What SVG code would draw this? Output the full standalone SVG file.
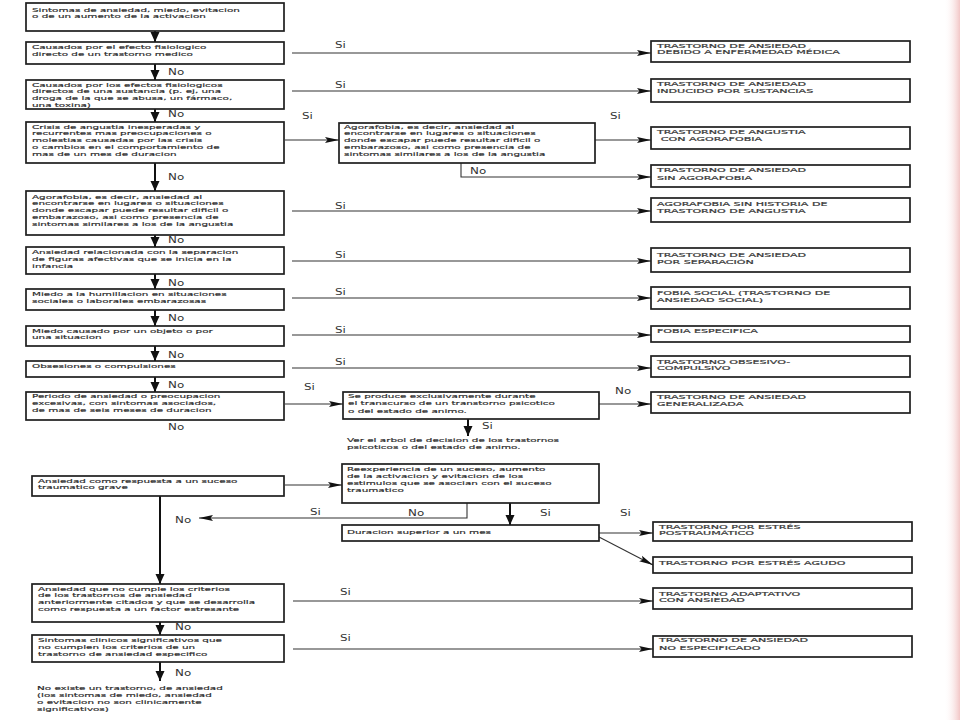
<svg xmlns="http://www.w3.org/2000/svg" width="960" height="720" viewBox="0 0 960 720">
<style>
.b{fill:#fff;stroke:#1e1e1e;stroke-width:1.7}
.t{font-family:"DejaVu Sans","Liberation Sans",sans-serif;font-size:5.9px;fill:#2b2b2b;stroke:#2b2b2b;stroke-width:0.16}
.u{font-family:"DejaVu Sans","Liberation Sans",sans-serif;font-size:5.9px;fill:#3a3a3a;stroke:#3a3a3a;stroke-width:0.2}
.l{font-family:"DejaVu Sans","Liberation Sans",sans-serif;font-size:9.5px;fill:#333}
.h{stroke:#333;stroke-width:1.1;fill:none}
.v{stroke:#111;stroke-width:2;fill:none}
</style>
<defs>
<marker id="ah" markerUnits="userSpaceOnUse" markerWidth="15" markerHeight="8" refX="14" refY="4" orient="auto"><path d="M0,0.9 L14,4 L0,7.1 L2.5,4 z" fill="#111"/></marker>
<marker id="ad" markerUnits="userSpaceOnUse" markerWidth="11" markerHeight="10" refX="10" refY="4.5" orient="auto"><path d="M0,0 L10,4.5 L0,9 z" fill="#111"/></marker>
<linearGradient id="pk" x1="0" y1="0" x2="1" y2="0"><stop offset="0" stop-color="#fff" stop-opacity="0"/><stop offset="1" stop-color="#f2c6c6"/></linearGradient>
</defs>
<rect width="960" height="720" fill="#fff"/>
<rect x="944" y="0" width="16" height="720" fill="url(#pk)"/>

<g id="connectors">
<line class="v" x1="155" y1="31" x2="155" y2="42" marker-end="url(#ad)"/>
<line class="v" x1="155" y1="64" x2="155" y2="80" marker-end="url(#ad)"/>
<line class="v" x1="155" y1="109" x2="155" y2="122" marker-end="url(#ad)"/>
<line class="v" x1="155" y1="163" x2="155" y2="191" marker-end="url(#ad)"/>
<line class="v" x1="155" y1="235" x2="155" y2="247" marker-end="url(#ad)"/>
<line class="v" x1="155" y1="274" x2="155" y2="289" marker-end="url(#ad)"/>
<line class="v" x1="155" y1="310" x2="155" y2="326" marker-end="url(#ad)"/>
<line class="v" x1="155" y1="346" x2="155" y2="361" marker-end="url(#ad)"/>
<line class="v" x1="155" y1="377" x2="155" y2="392" marker-end="url(#ad)"/>
<line class="h" x1="292" y1="53" x2="651" y2="53" marker-end="url(#ah)"/>
<line class="h" x1="292" y1="91" x2="651" y2="91" marker-end="url(#ah)"/>
<line class="h" x1="285" y1="140" x2="339" y2="140" marker-end="url(#ah)"/>
<line class="h" x1="595" y1="140" x2="651" y2="140" marker-end="url(#ah)"/>
<polyline class="h" points="461,163 461,177 651,177" marker-end="url(#ah)"/>
<line class="h" x1="292" y1="211" x2="651" y2="211" marker-end="url(#ah)"/>
<line class="h" x1="292" y1="261" x2="651" y2="261" marker-end="url(#ah)"/>
<line class="h" x1="292" y1="298" x2="651" y2="298" marker-end="url(#ah)"/>
<line class="h" x1="292" y1="335" x2="651" y2="335" marker-end="url(#ah)"/>
<line class="h" x1="292" y1="368" x2="651" y2="368" marker-end="url(#ah)"/>
<line class="h" x1="285" y1="404" x2="343" y2="404" marker-end="url(#ah)"/>
<line class="h" x1="599" y1="404" x2="651" y2="404" marker-end="url(#ah)"/>
<line class="v" x1="468" y1="419" x2="468" y2="436" marker-end="url(#ad)"/>
<line class="h" x1="285" y1="485" x2="342" y2="485" marker-end="url(#ah)"/>
<polyline class="h" points="467,503 467,518 199,518" marker-end="url(#ah)"/>
<line class="v" x1="510" y1="503" x2="510" y2="525" marker-end="url(#ad)"/>
<line class="h" x1="599" y1="533" x2="653" y2="533" marker-end="url(#ah)"/>
<line class="h" x1="599" y1="537" x2="653" y2="565" marker-end="url(#ah)"/>
<line class="v" x1="160" y1="496" x2="160" y2="584" marker-end="url(#ad)"/>
<line class="v" x1="160" y1="622" x2="160" y2="635" marker-end="url(#ad)"/>
<line class="v" x1="160" y1="662" x2="160" y2="681" marker-end="url(#ad)"/>
<line class="h" x1="293" y1="601" x2="653" y2="601" marker-end="url(#ah)"/>
<line class="h" x1="293" y1="649" x2="653" y2="649" marker-end="url(#ah)"/>
</g>

<g id="labels">
<text class="l" transform="translate(335,47.5) scale(1.25,1)">Si</text>
<text class="l" transform="translate(335,87.5) scale(1.25,1)">Si</text>
<text class="l" transform="translate(168,75) scale(1.25,1)">No</text>
<text class="l" transform="translate(168,117) scale(1.25,1)">No</text>
<text class="l" transform="translate(302,118.5) scale(1.25,1)">Si</text>
<text class="l" transform="translate(610,118.5) scale(1.25,1)">Si</text>
<text class="l" transform="translate(470,173.5) scale(1.25,1)">No</text>
<text class="l" transform="translate(168,180) scale(1.25,1)">No</text>
<text class="l" transform="translate(335,208.5) scale(1.25,1)">Si</text>
<text class="l" transform="translate(168,243) scale(1.25,1)">No</text>
<text class="l" transform="translate(335,258) scale(1.25,1)">Si</text>
<text class="l" transform="translate(168,285.5) scale(1.25,1)">No</text>
<text class="l" transform="translate(335,294.5) scale(1.25,1)">Si</text>
<text class="l" transform="translate(168,321) scale(1.25,1)">No</text>
<text class="l" transform="translate(335,333) scale(1.25,1)">Si</text>
<text class="l" transform="translate(168,358) scale(1.25,1)">No</text>
<text class="l" transform="translate(335,365) scale(1.25,1)">Si</text>
<text class="l" transform="translate(168,388) scale(1.25,1)">No</text>
<text class="l" transform="translate(304,390) scale(1.25,1)">Si</text>
<text class="l" transform="translate(615,394) scale(1.25,1)">No</text>
<text class="l" transform="translate(168,430) scale(1.25,1)">No</text>
<text class="l" transform="translate(482,428.5) scale(1.25,1)">Si</text>
<text class="l" transform="translate(310,515) scale(1.25,1)">Si</text>
<text class="l" transform="translate(408,516) scale(1.25,1)">No</text>
<text class="l" transform="translate(540,515.5) scale(1.25,1)">Si</text>
<text class="l" transform="translate(620,515.5) scale(1.25,1)">Si</text>
<text class="l" transform="translate(175,523) scale(1.25,1)">No</text>
<text class="l" transform="translate(340,595) scale(1.25,1)">Si</text>
<text class="l" transform="translate(175,630) scale(1.25,1)">No</text>
<text class="l" transform="translate(340,641) scale(1.25,1)">Si</text>
<text class="l" transform="translate(175,676) scale(1.25,1)">No</text>
</g>

<g id="n1"><rect class="b" x="26" y="3" width="258" height="28"/>
<text class="t" transform="translate(32,11.5) scale(1.76,1)"><tspan x="0" y="0">Sintomas de ansiedad, miedo, evitacion</tspan><tspan x="0" y="7">o de un aumento de la activacion</tspan></text></g>
<g id="n2"><rect class="b" x="26" y="42" width="258" height="22"/>
<text class="t" transform="translate(32,49) scale(1.76,1)"><tspan x="0" y="0">Causados por el efecto fisiologico</tspan><tspan x="0" y="7">directo de un trastorno medico</tspan></text></g>
<g id="n3"><rect class="b" x="26" y="80" width="258" height="29"/>
<text class="t" transform="translate(32,86.5) scale(1.76,1)"><tspan x="0" y="0">Causados por los efectos fisiologicos</tspan><tspan x="0" y="6.9">directos de una sustancia (p. ej, una</tspan><tspan x="0" y="13.8">droga de la que se abusa, un fármaco,</tspan><tspan x="0" y="20.7">una toxina)</tspan></text></g>
<g id="n4"><rect class="b" x="26" y="122" width="258" height="41"/>
<text class="t" transform="translate(32,128.5) scale(1.76,1)"><tspan x="0" y="0">Crisis de angustia inesperadas y</tspan><tspan x="0" y="6.9">recurrentes mas preocupaciones o</tspan><tspan x="0" y="13.8">molestias causadas por las crisis</tspan><tspan x="0" y="20.7">o cambios en el comportamiento de</tspan><tspan x="0" y="27.6">mas de un mes de duracion</tspan></text></g>
<g id="n5"><rect class="b" x="26" y="191" width="258" height="44"/>
<text class="t" transform="translate(32,198.5) scale(1.76,1)"><tspan x="0" y="0">Agorafobia, es decir, ansiedad al</tspan><tspan x="0" y="6.9">encontrarse en lugares o situaciones</tspan><tspan x="0" y="13.8">donde escapar puede resultar dificil o</tspan><tspan x="0" y="20.7">embarazoso, asi como presencia de</tspan><tspan x="0" y="27.6">sintomas similares a los de la angustia</tspan></text></g>
<g id="n6"><rect class="b" x="26" y="247" width="258" height="27"/>
<text class="t" transform="translate(32,254) scale(1.76,1)"><tspan x="0" y="0">Ansiedad relacionada con la separacion</tspan><tspan x="0" y="6.9">de figuras afectivas que se inicia en la</tspan><tspan x="0" y="13.8">infancia</tspan></text></g>
<g id="n7"><rect class="b" x="26" y="289" width="258" height="21"/>
<text class="t" transform="translate(32,296) scale(1.76,1)"><tspan x="0" y="0">Miedo a la humillacion en situaciones</tspan><tspan x="0" y="7">sociales o laborales embarazosas</tspan></text></g>
<g id="n8"><rect class="b" x="26" y="326" width="258" height="20"/>
<text class="t" transform="translate(32,332.5) scale(1.76,1)"><tspan x="0" y="0">Miedo causado por un objeto o por</tspan><tspan x="0" y="7">una situacion</tspan></text></g>
<g id="n9"><rect class="b" x="26" y="361" width="258" height="16"/>
<text class="t" transform="translate(32,367.5) scale(1.76,1)">Obsesiones o compulsiones</text></g>
<g id="n10"><rect class="b" x="26" y="392" width="258" height="28"/>
<text class="t" transform="translate(32,398) scale(1.76,1)"><tspan x="0" y="0">Periodo de ansiedad o preocupacion</tspan><tspan x="0" y="7">excesivas, con sintomas asociados,</tspan><tspan x="0" y="14">de mas de seis meses de duracion</tspan></text></g>

<g id="m1"><rect class="b" x="339" y="123" width="256" height="40"/>
<text class="t" transform="translate(344,128.5) scale(1.76,1)"><tspan x="0" y="0">Agorafobia, es decir, ansiedad al</tspan><tspan x="0" y="6.9">encontrarse en lugares o situaciones</tspan><tspan x="0" y="13.8">donde escapar puede resultar dificil o</tspan><tspan x="0" y="20.7">embarazoso, asi como presencia de</tspan><tspan x="0" y="27.6">sintomas similares a los de la angustia</tspan></text></g>
<g id="m2"><rect class="b" x="343" y="392" width="256" height="27"/>
<text class="t" transform="translate(348,398) scale(1.76,1)"><tspan x="0" y="0">Se produce exclusivamente durante</tspan><tspan x="0" y="7.3">el transcurso de un transtorno psicotico</tspan><tspan x="0" y="14.6">o del estado de animo.</tspan></text></g>
<g id="m3">
<text class="t" transform="translate(347,442) scale(1.76,1)"><tspan x="0" y="0">Ver el arbol de decision de los trastornos</tspan><tspan x="0" y="7.2">psicoticos o del estado de animo.</tspan></text></g>
<g id="m4"><rect class="b" x="342" y="464" width="257" height="39"/>
<text class="t" transform="translate(347,471) scale(1.76,1)"><tspan x="0" y="0">Reexperiencia de un suceso, aumento</tspan><tspan x="0" y="6.9">de la activacion y evitacion de los</tspan><tspan x="0" y="13.8">estimulos que se asocian con el suceso</tspan><tspan x="0" y="20.7">traumatico</tspan></text></g>
<g id="m5"><rect class="b" x="342" y="525" width="257" height="16"/>
<text class="t" transform="translate(347,533.5) scale(1.76,1)">Duracion superior a un mes</text></g>

<g id="n11"><rect class="b" x="32" y="476" width="252" height="20"/>
<text class="t" transform="translate(38,482.5) scale(1.76,1)"><tspan x="0" y="0">Ansiedad como respuesta a un suceso</tspan><tspan x="0" y="6.9">traumatico grave</tspan></text></g>
<g id="n12"><rect class="b" x="32" y="584" width="252" height="38"/>
<text class="t" transform="translate(38,590.5) scale(1.76,1)"><tspan x="0" y="0">Ansiedad que no cumple los criterios</tspan><tspan x="0" y="6.9">de los trastornos de ansiedad</tspan><tspan x="0" y="13.8">anteriormente citados y que se desarrolla</tspan><tspan x="0" y="20.7">como respuesta a un factor estresante</tspan></text></g>
<g id="n13"><rect class="b" x="32" y="635" width="252" height="27"/>
<text class="t" transform="translate(38,642) scale(1.76,1)"><tspan x="0" y="0">Sintomas clinicos significativos que</tspan><tspan x="0" y="6.9">no cumplen los criterios de un</tspan><tspan x="0" y="13.8">trastorno de ansiedad especifico</tspan></text></g>
<g id="n14">
<text class="t" transform="translate(37,690) scale(1.76,1)"><tspan x="0" y="0">No existe un trastorno, de ansiedad</tspan><tspan x="0" y="7">(los sintomas de miedo, ansiedad</tspan><tspan x="0" y="14">o evitacion no son clinicamente</tspan><tspan x="0" y="21">significativos)</tspan></text></g>

<g id="r1"><rect class="b" x="651" y="41" width="259" height="21"/>
<text class="u" transform="translate(657,47.5) scale(1.88,1)"><tspan x="0" y="0">TRASTORNO DE ANSIEDAD</tspan><tspan x="0" y="7">DEBIDO A ENFERMEDAD MÉDICA</tspan></text></g>
<g id="r2"><rect class="b" x="651" y="79" width="259" height="23"/>
<text class="u" transform="translate(657,85.7) scale(1.88,1)"><tspan x="0" y="0">TRASTORNO DE ANSIEDAD</tspan><tspan x="0" y="7.2">INDUCIDO POR SUSTANCIAS</tspan></text></g>
<g id="r3"><rect class="b" x="651" y="127" width="259" height="22"/>
<text class="u" transform="translate(657,133.7) scale(1.88,1)"><tspan x="0" y="0">TRASTORNO DE ANGUSTIA</tspan><tspan x="2" y="7.4">CON AGORAFOBIA</tspan></text></g>
<g id="r4"><rect class="b" x="651" y="165" width="259" height="22"/>
<text class="u" transform="translate(657,172.3) scale(1.88,1)"><tspan x="0" y="0">TRASTORNO DE ANSIEDAD</tspan><tspan x="0" y="7.3">SIN AGORAFOBIA</tspan></text></g>
<g id="r5"><rect class="b" x="651" y="198" width="259" height="24"/>
<text class="u" transform="translate(657,205.7) scale(1.88,1)"><tspan x="0" y="0">AGORAFOBIA SIN HISTORIA DE</tspan><tspan x="0" y="7.3">TRASTORNO DE ANGUSTIA</tspan></text></g>
<g id="r6"><rect class="b" x="651" y="248" width="259" height="24"/>
<text class="u" transform="translate(657,257) scale(1.88,1)"><tspan x="0" y="0">TRASTORNO DE ANSIEDAD</tspan><tspan x="0" y="7">POR SEPARACIÓN</tspan></text></g>
<g id="r7"><rect class="b" x="651" y="287" width="259" height="22"/>
<text class="u" transform="translate(657,294.7) scale(1.88,1)"><tspan x="0" y="0">FOBIA SOCIAL (TRASTORNO DE</tspan><tspan x="0" y="7.4">ANSIEDAD SOCIAL)</tspan></text></g>
<g id="r8"><rect class="b" x="651" y="326" width="259" height="16"/>
<text class="u" transform="translate(657,333) scale(1.88,1)">FOBIA ESPECIFICA</text></g>
<g id="r9"><rect class="b" x="651" y="356" width="259" height="21"/>
<text class="u" transform="translate(657,363.5) scale(1.88,1)"><tspan x="0" y="0">TRASTORNO OBSESIVO-</tspan><tspan x="0" y="7">COMPULSIVO</tspan></text></g>
<g id="r10"><rect class="b" x="651" y="392" width="259" height="21"/>
<text class="u" transform="translate(657,398.7) scale(1.88,1)"><tspan x="0" y="0">TRASTORNO DE ANSIEDAD</tspan><tspan x="0" y="7">GENERALIZADA</tspan></text></g>
<g id="r11"><rect class="b" x="653" y="522" width="259" height="19"/>
<text class="u" transform="translate(659,528.5) scale(1.88,1)"><tspan x="0" y="0">TRASTORNO POR ESTRÉS</tspan><tspan x="0" y="7">POSTRAUMÁTICO</tspan></text></g>
<g id="r12"><rect class="b" x="653" y="557" width="259" height="16"/>
<text class="u" transform="translate(659,564.7) scale(1.88,1)">TRASTORNO POR ESTRÉS AGUDO</text></g>
<g id="r13"><rect class="b" x="653" y="588" width="259" height="21"/>
<text class="u" transform="translate(659,595.5) scale(1.88,1)"><tspan x="0" y="0">TRASTORNO ADAPTATIVO</tspan><tspan x="0" y="7">CON ANSIEDAD</tspan></text></g>
<g id="r14"><rect class="b" x="653" y="636" width="259" height="21"/>
<text class="u" transform="translate(659,642.3) scale(1.88,1)"><tspan x="0" y="0">TRASTORNO DE ANSIEDAD</tspan><tspan x="0" y="7.4">NO ESPECIFICADO</tspan></text></g>
</svg>
